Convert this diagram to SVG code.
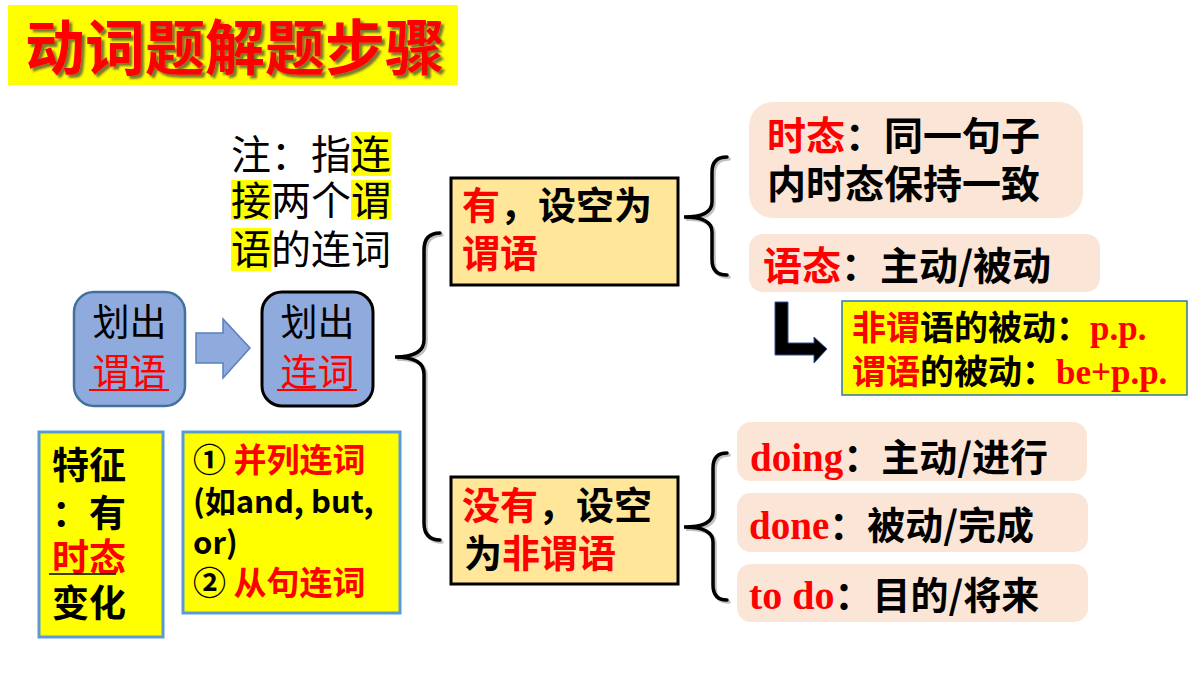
<svg xmlns="http://www.w3.org/2000/svg" width="1200" height="675" viewBox="0 0 1200 675">
<style>
.cjk{font-family:"Noto Sans CJK SC","Noto Sans",sans-serif;}
.b{font-weight:bold;}
.red{fill:#FF0000;}
.blk{fill:#000000;}
.lat{font-family:"Liberation Serif","Times New Roman",serif;font-weight:bold;fill:#FF0000;}
.pink{fill:#FBE5D6;}
.blue{fill:#8FAADC;}
.ybox{fill:#FFFF00;stroke:#5B9BD5;stroke-width:3;}
.obox{fill:#FFE699;stroke:#000000;stroke-width:3;}
.brace{fill:none;stroke:#000000;stroke-width:3.5;stroke-linecap:round;}
.bshadow{fill:none;stroke:#808080;stroke-width:3.5;stroke-opacity:0.5;stroke-linecap:round;}
</style>
<defs>
<filter id="tshadow" x="-5%" y="-20%" width="110%" height="140%">
<feDropShadow dx="3" dy="3" stdDeviation="0.8" flood-color="#404040" flood-opacity="0.7"/>
</filter>
</defs>
<rect width="1200" height="675" fill="#FFFFFF"/>

<g id="title">
<rect x="8" y="5" width="450" height="80" fill="#FFFF00"/>
<text class="cjk b red" x="25" y="70" font-size="60" filter="url(#tshadow)">动词题解题步骤</text>
</g>

<g id="note">
<rect x="351" y="132" width="40" height="44" fill="#FFFF00"/>
<rect x="231" y="180" width="40" height="40" fill="#FFFF00"/>
<rect x="351" y="180" width="40" height="40" fill="#FFFF00"/>
<rect x="231" y="228" width="40" height="43" fill="#FFFF00"/>
<text class="cjk blk" font-size="40"><tspan x="231" y="169">注：</tspan><tspan x="311" y="169">指连</tspan><tspan x="231" y="215">接两个谓</tspan><tspan x="231" y="264">语的连词</tspan></text>
</g>

<g id="node-predicate">
<rect x="74" y="292" width="111" height="114" rx="20" class="blue" stroke="#41719C" stroke-width="2.5"/>
<text class="cjk blk" x="129.5" y="336" font-size="37" text-anchor="middle">划出</text>
<text class="cjk red" x="129.5" y="386" font-size="37" text-anchor="middle">谓语</text>
<line x1="89" y1="390" x2="169" y2="390" stroke="#FF0000" stroke-width="2"/>
</g>

<g id="node-conj">
<rect x="262" y="292" width="111" height="114" rx="20" class="blue" stroke="#000000" stroke-width="3"/>
<text class="cjk blk" x="317.5" y="336" font-size="37" text-anchor="middle">划出</text>
<text class="cjk red" x="317.5" y="386" font-size="37" text-anchor="middle">连词</text>
<line x1="277" y1="390" x2="357" y2="390" stroke="#FF0000" stroke-width="2"/>
</g>

<g id="node-feature">
<rect x="39" y="432" width="124" height="205" class="ybox"/>
<text class="cjk b blk" font-size="37"><tspan x="52" y="479">特征</tspan><tspan x="52" y="527">：有</tspan></text>
<text class="cjk b red" x="52" y="571" font-size="37">时态</text>
<line x1="49" y1="574" x2="116" y2="574" stroke="#000000" stroke-width="1.5"/>
<text class="cjk b blk" x="52" y="617" font-size="37">变化</text>
</g>

<g id="node-types">
<rect x="183" y="432" width="217" height="181" class="ybox"/>
<text class="cjk b" font-size="33"><tspan x="193" y="472" class="blk">① </tspan><tspan class="red">并列连词</tspan></text>
<text class="cjk b blk" font-size="31"><tspan x="193" y="513">(如and, but,</tspan><tspan x="193" y="554">or)</tspan></text>
<text class="cjk b" font-size="33"><tspan x="193" y="595" class="blk">② </tspan><tspan class="red">从句连词</tspan></text>
</g>

<g id="node-yes">
<rect x="451" y="178" width="227" height="107" class="obox"/>
<text class="cjk b" font-size="38"><tspan x="462" y="219" class="red">有</tspan><tspan class="blk">，设空为</tspan><tspan x="462" y="267" class="red">谓语</tspan></text>
</g>

<g id="node-no">
<rect x="451" y="477" width="227" height="107" class="obox"/>
<text class="cjk b" font-size="38"><tspan x="462" y="519" class="red">没有</tspan><tspan class="blk">，设空</tspan><tspan x="464" y="567" class="blk">为</tspan><tspan class="red">非谓语</tspan></text>
</g>

<g id="node-tense">
<rect x="749" y="102" width="334" height="116" rx="24" class="pink"/>
<text class="cjk b" font-size="39"><tspan x="767" y="150" class="red">时态</tspan><tspan class="blk">：同一句子</tspan><tspan x="767" y="198" class="blk">内时态保持一致</tspan></text>
</g>

<g id="node-voice">
<rect x="749" y="234" width="351" height="58" rx="14" class="pink"/>
<text class="cjk b" font-size="39"><tspan x="763" y="280" class="red">语态</tspan><tspan class="blk">：主动/被动</tspan></text>
</g>

<g id="node-passive">
<rect x="842" y="301" width="345" height="94" fill="#FFFF00" stroke="#2E75B6" stroke-width="1.5"/>
<text font-size="34"><tspan x="852" y="340" class="cjk b red">非谓</tspan><tspan class="cjk b blk">语的被动：</tspan><tspan class="lat" font-size="35">p.p.</tspan></text>
<text font-size="34"><tspan x="852" y="384" class="cjk b red">谓语</tspan><tspan class="cjk b blk">的被动：</tspan><tspan class="lat" font-size="35">be+p.p.</tspan></text>
</g>

<g id="node-doing">
<rect x="737" y="422" width="350" height="59" rx="14" class="pink"/>
<text><tspan x="750" y="471" class="lat" font-size="39">doing</tspan><tspan class="cjk b blk" font-size="38">：主动/进行</tspan></text>
</g>

<g id="node-done">
<rect x="737" y="493" width="351" height="59" rx="14" class="pink"/>
<text><tspan x="749" y="539" class="lat" font-size="39">done</tspan><tspan class="cjk b blk" font-size="38">：被动/完成</tspan></text>
</g>

<g id="node-todo">
<rect x="737" y="564" width="351" height="58" rx="14" class="pink"/>
<text><tspan x="749" y="609" class="lat" font-size="40">to do</tspan><tspan class="cjk b blk" font-size="38">：目的/将来</tspan></text>
</g>

<g id="connectors">
<polygon points="196,333 223,333 223,319 250,348 223,378 223,363 196,363" fill="#8FAADC" stroke="#5B7FBF" stroke-width="1.5"/>
<path class="bshadow" transform="translate(2,2)" d="M440,233 Q424,233 424,250 L424,340 Q424,357 395,357 Q424,357 424,374 L424,523 Q424,540 440,540"/>
<path class="brace" d="M440,233 Q424,233 424,250 L424,340 Q424,357 395,357 Q424,357 424,374 L424,523 Q424,540 440,540"/>
<path class="bshadow" transform="translate(2,2)" d="M727,157 Q712,157 712,172 L712,202 Q712,217 684,217 Q712,217 712,232 L712,260 Q712,275 727,275"/>
<path class="brace" d="M727,157 Q712,157 712,172 L712,202 Q712,217 684,217 Q712,217 712,232 L712,260 Q712,275 727,275"/>
<path class="bshadow" transform="translate(2,2)" d="M727,453 Q713,453 713,468 L713,512 Q713,527 684,527 Q713,527 713,542 L713,585 Q713,600 727,600"/>
<path class="brace" d="M727,453 Q713,453 713,468 L713,512 Q713,527 684,527 Q713,527 713,542 L713,585 Q713,600 727,600"/>
<polygon points="775,302 788,302 788,343 814,343 814,337 827,349 814,363 814,355 775,355" fill="#000000" stroke="#2E5597" stroke-width="1"/>
</g>
</svg>
